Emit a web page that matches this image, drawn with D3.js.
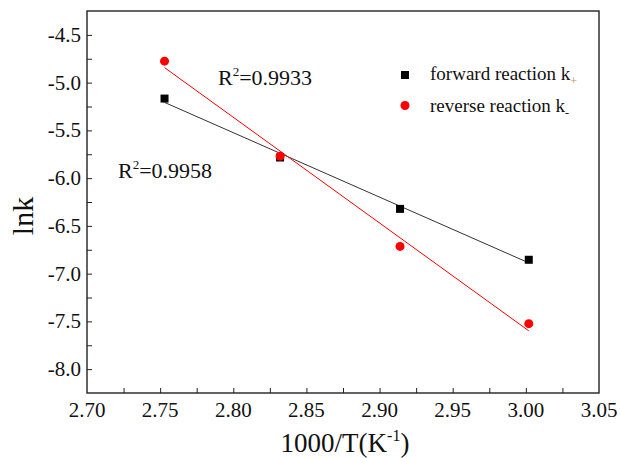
<!DOCTYPE html>
<html>
<head>
<meta charset="utf-8">
<script src="https://d3js.org/d3.v7.min.js"></script>
<style>
  body { margin: 0; background: #fff; }
  svg text { font-family: "Liberation Serif", "Times New Roman", serif; fill: #111; }
</style>
</head>
<body>
<div id="chart"></div>
<script>
// data
const invT = [2.753, 2.832, 2.914, 3.002];
const lnkForward = [-5.167, -5.784, -6.322, -6.855];
const lnkReverse = [-4.775, -5.770, -6.715, -7.524];
const r2Forward = "0.9958";
const r2Reverse = "0.9933";
const xTicks = [2.70, 2.75, 2.80, 2.85, 2.90, 2.95, 3.00, 3.05];
const yTicks = [-8.0, -7.5, -7.0, -6.5, -6.0, -5.5, -5.0, -4.5];

function fit(xs, ys) {
  const mx = d3.mean(xs), my = d3.mean(ys);
  let sxy = 0, sxx = 0;
  xs.forEach((x, i) => { sxy += (x - mx) * (ys[i] - my); sxx += (x - mx) * (x - mx); });
  const b = sxy / sxx;
  return x => my + b * (x - mx);
}

function draw() {
  const w = 620, h = 458;
  const m = {left: 87, right: 21, top: 11, bottom: 65};
  const iw = w - m.left - m.right, ih = h - m.top - m.bottom;

  const svg = d3.select("#chart").append("svg")
      .attr("width", w)
      .attr("height", h);
  const g = svg.append("g").attr("transform", `translate(${m.left},${m.top})`);

  const x = d3.scaleLinear().domain([2.70, 3.05]).range([0, iw]);
  const y = d3.scaleLinear().domain([-8.25, -4.25]).range([ih, 0]);

  // ticks (inward), major + minor
  const xMinor = d3.range(1, 14).map(i => 2.70 + i * 0.025);
  const yMinor = d3.range(1, 16).map(i => -8.25 + i * 0.25);

  g.append("g")
      .attr("transform", `translate(0,${ih})`)
      .call(d3.axisBottom(x).tickValues(xMinor).tickSize(-5).tickFormat(""))
      .call(a => a.select(".domain").remove());
  g.append("g")
      .call(d3.axisLeft(y).tickValues(yMinor).tickSize(-5).tickFormat(""))
      .call(a => a.select(".domain").remove());
  g.selectAll(".tick line").attr("stroke", "#222");

  // tick labels
  g.selectAll(".xlab").data(xTicks).join("text")
      .attr("class", "xlab")
      .attr("x", d => x(d))
      .attr("y", ih + 24)
      .attr("text-anchor", "middle")
      .attr("font-size", 21)
      .text(d => d.toFixed(2));
  g.selectAll(".ylab").data(yTicks).join("text")
      .attr("class", "ylab")
      .attr("x", -6)
      .attr("y", d => y(d) + 7)
      .attr("text-anchor", "end")
      .attr("font-size", 21)
      .text(d => d.toFixed(1));

  // frame
  g.append("rect")
      .attr("width", iw).attr("height", ih)
      .attr("fill", "none").attr("stroke", "#222").attr("stroke-width", 1.4);

  // fit lines
  const fF = fit(invT, lnkForward), fR = fit(invT, lnkReverse);
  const x0 = d3.min(invT), x1 = d3.max(invT);
  g.append("line")
      .attr("x1", x(x0)).attr("y1", y(fF(x0)))
      .attr("x2", x(x1)).attr("y2", y(fF(x1)))
      .attr("stroke", "#333").attr("stroke-width", 1);
  g.append("line")
      .attr("x1", x(x0)).attr("y1", y(fR(x0)))
      .attr("x2", x(x1)).attr("y2", y(fR(x1)))
      .attr("stroke", "red").attr("stroke-width", 1);

  // points
  g.selectAll(".sq").data(invT).join("rect")
      .attr("x", (d) => x(d) - 4)
      .attr("y", (d, i) => y(lnkForward[i]) - 4)
      .attr("width", 8).attr("height", 8)
      .attr("fill", "#000");
  g.selectAll(".ci").data(invT).join("circle")
      .attr("cx", (d) => x(d))
      .attr("cy", (d, i) => y(lnkReverse[i]))
      .attr("r", 4.5)
      .attr("fill", "red");

  // R^2 labels
  const r2 = (tx, ty, val) => {
    const t = svg.append("text").attr("x", tx).attr("y", ty).attr("font-size", 22);
    t.append("tspan").text("R");
    t.append("tspan").attr("font-size", 13).attr("dy", -9).text("2");
    t.append("tspan").attr("dy", 9).text("=" + val);
  };
  r2(218, 85, r2Reverse);
  r2(118, 178, r2Forward);

  // legend
  svg.append("rect").attr("x", 401).attr("y", 71).attr("width", 8).attr("height", 8).attr("fill", "#000");
  svg.append("circle").attr("cx", 405).attr("cy", 105.5).attr("r", 4.5).attr("fill", "red");
  const l1 = svg.append("text").attr("x", 430).attr("y", 80).attr("font-size", 19);
  l1.append("tspan").text("forward reaction k");
  l1.append("tspan").attr("font-size", 12).attr("dy", 5).style("fill", "#c8903a").text("+");
  const l2 = svg.append("text").attr("x", 430).attr("y", 112).attr("font-size", 19);
  l2.append("tspan").text("reverse reaction k");
  l2.append("tspan").attr("font-size", 12).attr("dy", 5).text("-");

  // axis titles
  const xt = svg.append("text")
      .attr("x", m.left + iw / 2 + 2).attr("y", 452)
      .attr("text-anchor", "middle").attr("font-size", 27);
  xt.append("tspan").text("1000/T(K");
  xt.append("tspan").attr("font-size", 16).attr("dy", -11).text("-1");
  xt.append("tspan").attr("dy", 11).text(")");

  svg.append("text")
      .attr("transform", `translate(33,${m.top + ih / 2 + 14}) rotate(-90)`)
      .attr("text-anchor", "middle").attr("font-size", 30)
      .text("lnk");
}

draw();
</script>
</body>
</html>
